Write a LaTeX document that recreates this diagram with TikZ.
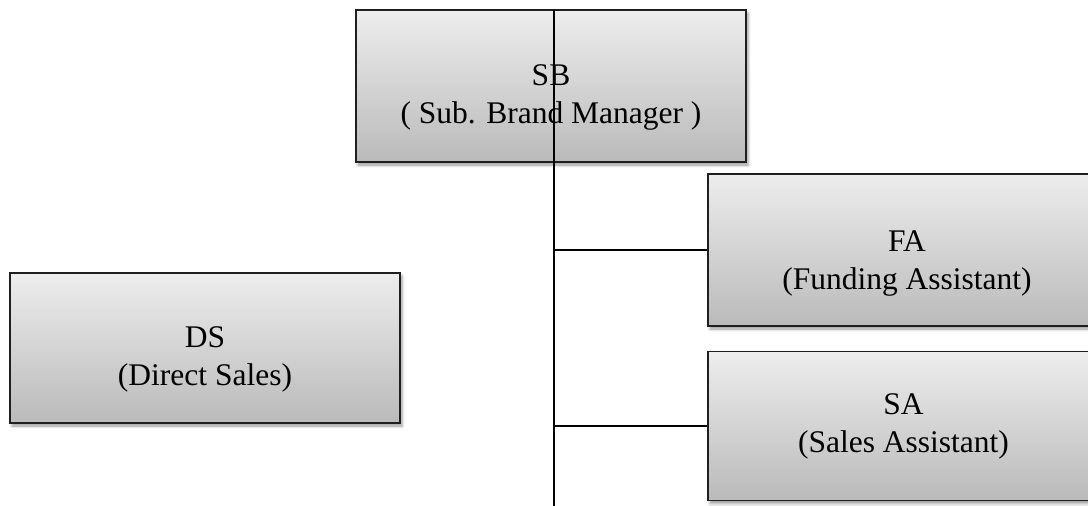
\documentclass[tikz,border=0pt]{standalone}
\usepackage{fontspec}
\setmainfont{Liberation Serif}
\usetikzlibrary{positioning,shadows.blur}
\tikzset{
    unit/.style={rectangle,draw=black!88,line width=1.6pt,top color=black!7,bottom color=black!27,
        blur shadow={shadow xshift=2pt,shadow yshift=-3pt,shadow blur radius=3pt,shadow opacity=40}},
    caption/.style={align=center,inner sep=0pt,font=\fontsize{31.5}{38}\selectfont},
    link/.style={-,line width=1.6pt,black}
}

\begin{document}
\begin{tikzpicture}[x=1pt,y=-1pt]

                \clip (0,0) rectangle (1088,506);

                \node[unit, minimum width=390pt, minimum height=152pt] (sb) at (551,86) {};
                \node[caption] (sb text) at (sb.center) [yshift=-11pt] {SB\\( Sub. Brand Manager )};

                \node[unit, minimum width=390pt, minimum height=150pt] (ds) at (205,348) {};
                \node[caption] (ds text) at (ds.center) [yshift=-11pt] {DS\\(Direct Sales)};

                \node[unit, minimum width=398pt, minimum height=152pt] (fa) at (907,250) {};
                \node[caption] (fa text) at (fa.center) [yshift=-13pt] {FA\\(Funding Assistant)};

                \node[unit, minimum width=391pt, minimum height=149pt] (sa) [below=24pt of fa.south, xshift=-3.5pt, anchor=north] {};
                \node[caption] (sa text) at (sa.center) {SA\\(Sales Assistant)};

                \coordinate (trunk top) at (554,10);
                \coordinate (trunk end) at (554,506);

                \draw[link] (trunk top) -- (trunk end);
                \draw[link] (fa.west) -- (fa.west -| trunk top);
                \draw[link] (sa.west) -- (sa.west -| trunk top);

\end{tikzpicture}
\end{document}
